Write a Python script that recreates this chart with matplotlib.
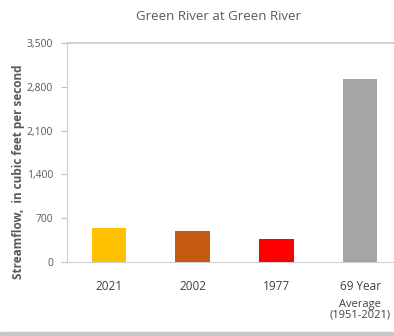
import matplotlib
matplotlib.use("Agg")
import matplotlib.pyplot as plt
import matplotlib.transforms as mtransforms

categories = ["2021", "2002", "1977", "69 Year"]
category_sub = ["", "", "", "Average\n(1951-2021)"]
values = [545, 495, 368, 2925]
colors = ["#FFC000", "#C55A11", "#FF0000", "#A5A5A5"]
yticks = [0, 700, 1400, 2100, 2800, 3500]
ytick_labels = ["0", "700", "1,400", "2,100", "2,800", "3,500"]

plt.rcParams['font.family'] = ['Open Sans', 'DejaVu Sans']

fig = plt.figure(figsize=(3.94, 3.36), dpi=100)
fig.patch.set_facecolor("white")
ax = fig.add_axes([67/394, 74/336, 1 - 67/394, (262-43)/336])

x = list(range(len(categories)))
ax.bar(x, values, width=0.41, color=colors, zorder=3)

ax.set_xlim(-0.5, 3.405)
ax.set_ylim(0, 3500)
ax.set_yticks(yticks)
ax.set_yticklabels(ytick_labels, fontsize=7.5, color="#595959")
ax.set_xticks(x)
ax.set_xticklabels(categories, fontsize=8.5, color="#404040")
ax.tick_params(axis='x', length=0, pad=13)
ax.tick_params(axis='y', length=4, color="#BFBFBF", pad=6)

for s in ["top", "right"]:
    ax.spines[s].set_visible(False)
ax.spines["left"].set_color("#D0D0D0")
ax.spines["bottom"].set_color("#D0D0D0")
ax.axhline(3500, color="#C8C8C8", lw=1.2, zorder=1, clip_on=False)

trans = mtransforms.blended_transform_factory(ax.transData, fig.transFigure)
for xi, sub in zip(x, category_sub):
    if sub:
        ax.text(xi, (336-299)/336, sub, transform=trans, ha="center", va="top",
                fontsize=8, color="#404040", linespacing=0.95)

ax.set_ylabel("Streamflow,  in cubic feet per second", fontsize=8.5, color="#595959",
              fontweight="bold")
ax.yaxis.set_label_coords(-67/394 + 14/327, 0.41)

fig.text(218/394, 1 - 17/336, "Green River at Green River", ha="center", va="center",
         fontsize=9.5, color="#595959")

# bottom gray band
fig.patches.append(plt.Rectangle((0, 0), 1, 4/336, transform=fig.transFigure,
                                 color="#C8C8C8", zorder=0))

fig.savefig("out.png", dpi=100, facecolor="white")
